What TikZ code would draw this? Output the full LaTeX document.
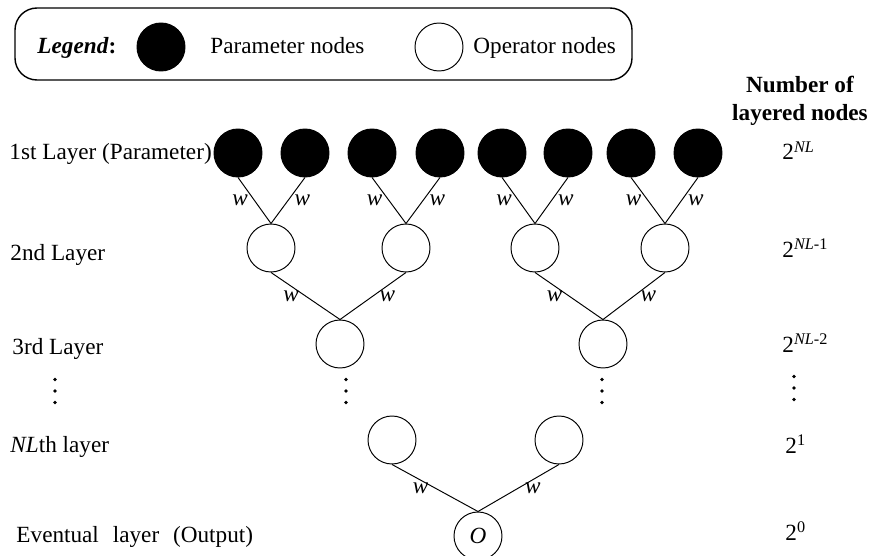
\documentclass[tikz,border=0pt]{standalone}
\usepackage{fontspec}
\setmainfont{Liberation Serif}
\usepackage{xcolor}
\usetikzlibrary{positioning}
\usetikzlibrary{shapes.geometric,calc}
\AtBeginDocument{\fontsize{13.2}{15.8}\selectfont}
\tikzset{
  param/.style={circle, draw, fill=black, minimum size=0.96cm, inner sep=0pt},
  oper/.style={circle, draw, fill=white, minimum size=0.96cm, inner sep=0pt},
  layertext/.style={anchor=base west, inner sep=0pt},
  counttext/.style={anchor=base west, inner sep=0pt},
  wlab/.style={font=\itshape, inner sep=3.5pt}
}
% three vertical dots round a named coordinate
\newcommand*{\layerdots}[1]{
  \fill ($(#1)+(0,0.23)$) circle (0.038);
  \fill (#1) circle (0.038);
  \fill ($(#1)+(0,-0.23)$) circle (0.038);
}

\begin{document}
\begin{tikzpicture}[line width=0.55pt]
\useasboundingbox (0,0) rectangle (17.44,-11.12);

% Legend
\node[draw, rounded corners=0.44cm, line width=0.8pt,
    minimum width=12.34cm,
    minimum height=1.44cm
] (legend) at (6.47,-0.88) {};
\node[layertext] (legtitle) at (0.74,-1.08) {\textbf{\textit{Legend}:}};
\node[param] (legpar) at (3.22,-0.94) {};
\node[layertext] (legpartext) at (4.20,-1.08) {Parameter nodes};
\node[oper] (legop) at (8.78,-0.94) {};
\node[layertext] (legoptext) at (9.46,-1.08) {Operator nodes};

% 1st layer (parameters)
\node[param] (p1) at (4.76,-3.06) {};
\node[param] (p2) at (6.10,-3.06) {};
\node[param] (p3) at (7.44,-3.06) {};
\node[param] (p4) at (8.80,-3.06) {};
\node[param] (p5) at (10.04,-3.06) {};
\node[param] (p6) at (11.36,-3.06) {};
\node[param] (p7) at (12.62,-3.06) {};
\node[param] (p8) at (13.96,-3.06) {};

% 2nd layer
\node[oper] (o1) at (5.42,-4.96) {};
\node[oper] (o2) at (8.12,-4.96) {};
\node[oper] (o3) at (10.70,-4.96) {};
\node[oper] (o4) at (13.30,-4.96) {};

% 3rd layer
\node[oper] (t1) at (6.80,-6.88) {};
\node[oper] (t2) at (12.06,-6.88) {};

% NL-th layer and output
\node[oper] (n1) at (7.84,-8.80) {};
\node[oper] (n2) at (11.18,-8.80) {};
\node[oper] (out) at (9.56,-10.72) {\textit{O}};

% Connections with weights
\draw (p1.south) -- (o1.north) node[midway,left,wlab]{w};
\draw (p2.south) -- (o1.north) node[midway,right,wlab]{w};
\draw (p3.south) -- (o2.north) node[midway,left,wlab]{w};
\draw (p4.south) -- (o2.north) node[midway,right,wlab]{w};
\draw (p5.south) -- (o3.north) node[midway,left,wlab]{w};
\draw (p6.south) -- (o3.north) node[midway,right,wlab]{w};
\draw (p7.south) -- (o4.north) node[midway,left,wlab]{w};
\draw (p8.south) -- (o4.north) node[midway,right,wlab]{w};

\draw (o1.south) -- (t1.north) node[midway,left,wlab]{w};
\draw (o2.south) -- (t1.north) node[midway,right,wlab]{w};
\draw (o3.south) -- (t2.north) node[midway,left,wlab]{w};
\draw (o4.south) -- (t2.north) node[midway,right,wlab]{w};

\draw (n1.south) -- (out.north) node[midway,left,wlab]{w};
\draw (n2.south) -- (out.north) node[midway,right,wlab]{w};

% Dots between layers
\coordinate (tdots1) at (6.92,-7.82);
\coordinate (tdots2) at (12.04,-7.82);
\coordinate (laydots) at (1.10,-7.82);
\coordinate (cntdots) at (15.88,-7.76);
\layerdots{tdots1}
\layerdots{tdots2}
\layerdots{laydots}
\layerdots{cntdots}

% Layer names
\node[layertext] (lay1) at (0.18,-3.20) {1st Layer (Parameter)};
\node[layertext] (lay2) at (0.20,-5.20) {2nd Layer};
\node[layertext] (lay3) at (0.24,-7.08) {3rd Layer};
\node[layertext] (laynl) at (0.20,-9.04) {\textit{NL}th layer};
\node[layertext] (layout) at (0.32,-10.84) {Eventual\hspace{0.6em}layer\hspace{0.6em}(Output)};

% Number of layered nodes
\node[align=center, font=\bfseries, inner sep=0pt, anchor=north] (numhead) at (16.0,-1.52) {Number of\\layered nodes};
\node[counttext] (cnt1) at (15.64,-3.20) {2\textsuperscript{\textit{NL}}};
\node[counttext] (cnt2) at (15.64,-5.14) {2\textsuperscript{\textit{NL}-1}};
\node[counttext] (cnt3) at (15.64,-7.04) {2\textsuperscript{\textit{NL}-2}};
\node[counttext] (cnt4) at (15.70,-9.06) {2\textsuperscript{1}};
\node[counttext] (cnt5) at (15.70,-10.80) {2\textsuperscript{0}};

\end{tikzpicture}
\end{document}
